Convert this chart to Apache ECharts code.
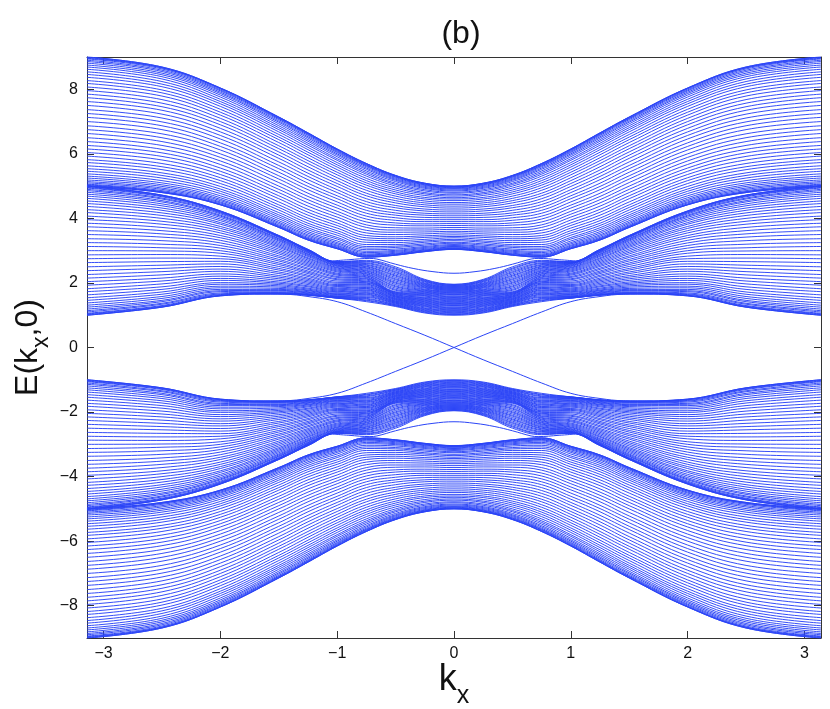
<!DOCTYPE html>
<html>
<head>
<meta charset="utf-8">
<style>
  html, body { margin: 0; padding: 0; background: #fff; }
  #graph { width: 830px; height: 709px; }
</style>
<script src="https://cdn.jsdelivr.net/npm/echarts@6/dist/echarts.min.js"></script>
</head>
<body>
<div id="graph"></div>
<script>
// kx samples, right half of the plot (the picture is mirror symmetric in kx and in E)
const kHalf = [0, 0.25, 0.5, 0.75, 1, 1.25, 1.5, 2, 2.5, 3.1416];
const xTicks = [-3, -2, -1, 0, 1, 2, 3];
const yTicks = [-8, -6, -4, -2, 0, 2, 4, 6, 8];

// upper family: band energies read at each kx, lowest line to highest line
const outerK000 = [3.04,3.04,3.05,3.06,3.07,3.09,3.11,3.13,3.16,3.19,3.23,3.26,3.31,3.35,3.40,3.44,3.49,3.55,3.60,3.66,3.72,3.78,3.84,3.90,3.96,4.02,4.08,4.14,4.20,4.26,4.32,4.38,4.44,4.49,4.55,4.60,4.64,4.69,4.73,4.78,4.81,4.85,4.88,4.91,4.93,4.95,4.97,4.98,4.99,5.00,5.00];
const outerK025 = [2.97,2.97,2.98,2.99,3.00,3.02,3.04,3.07,3.10,3.13,3.17,3.21,3.26,3.30,3.35,3.41,3.46,3.52,3.58,3.64,3.70,3.77,3.83,3.90,3.96,4.03,4.10,4.16,4.23,4.29,4.36,4.42,4.48,4.54,4.60,4.65,4.71,4.76,4.80,4.85,4.89,4.93,4.96,4.99,5.02,5.04,5.06,5.07,5.08,5.09,5.09];
const outerK050 = [2.86,2.86,2.87,2.88,2.90,2.92,2.95,2.98,3.01,3.05,3.10,3.14,3.19,3.25,3.31,3.37,3.43,3.50,3.57,3.64,3.71,3.79,3.86,3.94,4.02,4.10,4.17,4.25,4.33,4.40,4.48,4.55,4.62,4.69,4.76,4.82,4.88,4.94,5.00,5.05,5.09,5.14,5.18,5.21,5.24,5.27,5.29,5.31,5.32,5.33,5.33];
const outerK075 = [2.80,2.80,2.81,2.83,2.85,2.87,2.90,2.94,2.98,3.03,3.08,3.13,3.19,3.26,3.33,3.40,3.47,3.55,3.63,3.72,3.80,3.89,3.98,4.07,4.16,4.25,4.34,4.43,4.52,4.61,4.70,4.78,4.87,4.95,5.03,5.10,5.17,5.24,5.31,5.37,5.42,5.47,5.52,5.56,5.60,5.63,5.65,5.67,5.69,5.70,5.70];
const outerK100 = [3.06,3.06,3.07,3.09,3.11,3.14,3.17,3.21,3.25,3.30,3.36,3.41,3.48,3.55,3.62,3.70,3.78,3.86,3.95,4.04,4.13,4.22,4.32,4.41,4.51,4.61,4.70,4.80,4.89,4.99,5.08,5.17,5.26,5.35,5.43,5.51,5.59,5.66,5.73,5.80,5.85,5.91,5.96,6.00,6.04,6.07,6.10,6.12,6.14,6.15,6.15];
const outerK125 = [3.33,3.33,3.34,3.36,3.38,3.41,3.45,3.49,3.54,3.59,3.65,3.71,3.78,3.85,3.93,4.01,4.10,4.19,4.28,4.38,4.48,4.58,4.68,4.78,4.89,4.99,5.09,5.20,5.30,5.40,5.50,5.60,5.70,5.79,5.88,5.97,6.05,6.13,6.20,6.27,6.33,6.39,6.44,6.49,6.53,6.57,6.60,6.62,6.64,6.65,6.65];
const outerK150 = [3.72,3.72,3.73,3.75,3.77,3.80,3.84,3.88,3.93,3.99,4.05,4.11,4.18,4.26,4.34,4.42,4.51,4.61,4.70,4.80,4.90,5.00,5.11,5.22,5.32,5.43,5.54,5.64,5.75,5.86,5.96,6.06,6.16,6.25,6.35,6.44,6.52,6.60,6.68,6.75,6.81,6.87,6.93,6.98,7.02,7.06,7.09,7.11,7.13,7.14,7.14];
const outerK200 = [4.42,4.42,4.43,4.45,4.48,4.51,4.55,4.59,4.64,4.70,4.77,4.84,4.91,4.99,5.08,5.17,5.26,5.36,5.46,5.56,5.67,5.78,5.89,6.00,6.12,6.23,6.34,6.46,6.57,6.68,6.79,6.90,7.00,7.10,7.20,7.29,7.38,7.47,7.55,7.62,7.69,7.76,7.82,7.87,7.91,7.95,7.98,8.01,8.03,8.04,8.04];
const outerK250 = [4.80,4.80,4.82,4.83,4.86,4.90,4.94,4.99,5.04,5.10,5.17,5.25,5.33,5.41,5.51,5.60,5.70,5.81,5.92,6.03,6.14,6.26,6.38,6.50,6.62,6.75,6.87,6.99,7.11,7.23,7.35,7.46,7.57,7.68,7.79,7.89,7.98,8.08,8.16,8.24,8.32,8.39,8.45,8.50,8.55,8.59,8.63,8.66,8.67,8.69,8.69];
const outerKPi = [5.00,5.00,5.02,5.04,5.06,5.10,5.14,5.19,5.25,5.31,5.38,5.46,5.54,5.63,5.73,5.82,5.93,6.04,6.15,6.26,6.38,6.50,6.63,6.75,6.87,7.00,7.13,7.25,7.37,7.50,7.62,7.74,7.85,7.96,8.07,8.18,8.27,8.37,8.46,8.54,8.62,8.69,8.75,8.81,8.86,8.90,8.94,8.96,8.98,9.00,9.00];

// lower family of the positive half
const innerK000 = [1.00,1.02,1.04,1.06,1.08,1.11,1.13,1.15,1.17,1.19,1.21,1.23,1.25,1.28,1.30,1.32,1.34,1.36,1.38,1.40,1.42,1.45,1.47,1.49,1.51,1.53,1.55,1.57,1.59,1.62,1.64,1.66,1.68,1.70,1.72,1.74,1.75,1.77,1.78,1.80,1.81,1.83,1.84,1.86,1.87,1.89,1.90,1.92,1.93,1.95,1.96];
const innerK025 = [1.07,1.09,1.11,1.13,1.15,1.17,1.19,1.21,1.23,1.26,1.28,1.30,1.32,1.34,1.36,1.38,1.40,1.42,1.44,1.46,1.48,1.50,1.52,1.54,1.56,1.59,1.61,1.63,1.65,1.67,1.69,1.71,1.73,1.75,1.77,1.79,1.81,1.84,1.86,1.88,1.90,1.92,1.94,1.96,1.98,2.00,2.03,2.05,2.07,2.09,2.11];
const innerK050 = [1.27,1.29,1.30,1.32,1.33,1.35,1.37,1.38,1.40,1.41,1.43,1.44,1.46,1.48,1.49,1.51,1.52,1.54,1.56,1.57,1.59,1.60,1.62,1.64,1.65,1.67,1.68,1.70,1.71,1.73,1.77,1.80,1.84,1.88,1.91,1.95,1.99,2.02,2.06,2.10,2.13,2.17,2.21,2.24,2.28,2.32,2.35,2.39,2.43,2.46,2.50];
const innerK075 = [1.42,1.45,1.47,1.50,1.52,1.55,1.57,1.60,1.63,1.65,1.68,1.70,1.73,1.76,1.78,1.81,1.83,1.86,1.88,1.91,1.94,1.96,1.99,2.01,2.04,2.06,2.09,2.12,2.14,2.17,2.19,2.22,2.24,2.27,2.29,2.32,2.34,2.37,2.39,2.42,2.45,2.47,2.50,2.52,2.55,2.57,2.60,2.62,2.65,2.67,2.70];
const innerK100 = [1.53,1.53,1.53,1.54,1.55,1.56,1.57,1.58,1.60,1.62,1.64,1.66,1.68,1.71,1.73,1.76,1.79,1.82,1.85,1.89,1.92,1.95,1.99,2.02,2.06,2.10,2.13,2.17,2.20,2.24,2.27,2.30,2.34,2.37,2.40,2.43,2.46,2.48,2.51,2.53,2.55,2.57,2.59,2.60,2.61,2.62,2.63,2.64,2.65,2.66,2.66];
const innerK125 = [1.62,1.62,1.63,1.63,1.64,1.65,1.67,1.69,1.71,1.73,1.76,1.78,1.81,1.84,1.88,1.91,1.95,1.99,2.03,2.07,2.11,2.15,2.20,2.24,2.29,2.33,2.37,2.42,2.46,2.51,2.55,2.59,2.63,2.67,2.71,2.75,2.78,2.82,2.85,2.88,2.90,2.93,2.95,2.97,2.99,3.00,3.01,3.02,3.03,3.04,3.04];
const innerK150 = [1.66,1.66,1.67,1.68,1.69,1.70,1.72,1.75,1.77,1.80,1.83,1.87,1.91,1.95,1.99,2.03,2.08,2.13,2.18,2.23,2.29,2.34,2.40,2.45,2.51,2.57,2.62,2.68,2.73,2.79,2.84,2.90,2.95,3.00,3.05,3.10,3.14,3.18,3.22,3.26,3.30,3.33,3.36,3.38,3.41,3.43,3.44,3.45,3.46,3.47,3.47];
const innerK200 = [1.60,1.60,1.61,1.62,1.64,1.66,1.69,1.73,1.76,1.80,1.85,1.90,1.96,2.01,2.08,2.14,2.21,2.28,2.36,2.43,2.51,2.59,2.67,2.75,2.83,2.92,3.00,3.08,3.16,3.24,3.32,3.40,3.47,3.55,3.62,3.69,3.75,3.82,3.87,3.93,3.98,4.03,4.07,4.10,4.14,4.17,4.19,4.21,4.22,4.23,4.23];
const innerK250 = [1.25,1.25,1.26,1.28,1.30,1.34,1.37,1.42,1.46,1.52,1.58,1.65,1.72,1.80,1.88,1.97,2.06,2.15,2.25,2.35,2.45,2.55,2.66,2.77,2.88,2.99,3.09,3.20,3.31,3.42,3.52,3.62,3.72,3.82,3.91,4.00,4.09,4.17,4.25,4.32,4.39,4.45,4.51,4.55,4.60,4.63,4.67,4.69,4.71,4.72,4.72];
const innerKPi = [1.00,1.00,1.02,1.04,1.06,1.10,1.14,1.19,1.25,1.31,1.38,1.46,1.54,1.63,1.73,1.82,1.93,2.04,2.15,2.26,2.38,2.50,2.63,2.75,2.87,3.00,3.13,3.25,3.37,3.50,3.62,3.74,3.85,3.96,4.07,4.18,4.27,4.37,4.46,4.54,4.62,4.69,4.75,4.81,4.86,4.90,4.94,4.96,4.98,5.00,5.00];

// the isolated curves
const gapStateK = [0, 0.25, 0.5, 0.75, 1, 1.25, 1.45, 1.7];
const gapStateE = [0, 0.38, 0.74, 1.1, 1.42, 1.58, 1.65, 1.66];
const upperStateK = [0, 0.18, 0.35, 0.5, 0.66, 0.72, 0.9, 1.04];
const upperStateE = [2.30, 2.35, 2.45, 2.58, 2.74, 2.76, 2.72, 2.68];

const outerCuts = [outerK000, outerK025, outerK050, outerK075, outerK100, outerK125, outerK150, outerK200, outerK250, outerKPi];
const innerCuts = [innerK000, innerK025, innerK050, innerK075, innerK100, innerK125, innerK150, innerK200, innerK250, innerKPi];

const lineBlue = '#2b45f7';

function curve(kList, eList, sign, width) {
  let data = [];
  for (let i = kList.length - 1; i > 0; i--) data.push([-kList[i], sign * eList[i]]);
  for (let i = 0; i < kList.length; i++) data.push([kList[i], sign * eList[i]]);
  return {
    type: 'line',
    data: data,
    showSymbol: false,
    smooth: 0.4,
    silent: true,
    animation: false,
    lineStyle: { color: lineBlue, width: width }
  };
}

let series = [];
[outerCuts, innerCuts].forEach(function (cuts) {
  for (let j = 0; j < cuts[0].length; j++) {
    let band = cuts.map(function (cut) { return cut[j]; });
    series.push(curve(kHalf, band, 1, 0.95));
    series.push(curve(kHalf, band, -1, 0.95));
  }
});
[1, -1].forEach(function (sign) {
  series.push(curve(upperStateK, upperStateE, sign, 1));
});
// the gap curves cross at zero: each one runs through the origin with opposite slope
[1, -1].forEach(function (sign) {
  let data = [];
  for (let i = gapStateK.length - 1; i > 0; i--) data.push([-gapStateK[i], -sign * gapStateE[i]]);
  for (let i = 0; i < gapStateK.length; i++) data.push([gapStateK[i], sign * gapStateE[i]]);
  series.push({
    type: 'line', data: data, showSymbol: false, smooth: 0.4, silent: true, animation: false,
    lineStyle: { color: lineBlue, width: 1 }
  });
});

function minusLabel(v) {
  return String(v).replace('-', '\u2212');
}
const frame = { show: true, onZero: false, lineStyle: { color: '#333', width: 1 } };
const font = 'Liberation Sans';

let myChart = echarts.init(document.getElementById('graph'));
myChart.setOption({
  backgroundColor: '#fff',
  animation: false,
  title: {
    text: '(b)',
    left: 456,
    top: 13,
    textAlign: 'center',
    textStyle: { fontFamily: font, fontSize: 32, fontWeight: 'normal', color: '#111' }
  },
  grid: { left: 87, right: 9, top: 57, bottom: 71, outerBoundsMode: 'none' },
  xAxis: [
    {
      type: 'value', min: -Math.PI, max: Math.PI, position: 'bottom',
      axisLine: frame,
      axisTick: { inside: true, length: 7, customValues: xTicks, lineStyle: { color: '#333' } },
      axisLabel: { customValues: xTicks, formatter: minusLabel, fontFamily: font, fontSize: 16, color: '#111', margin: 8 },
      splitLine: { show: false },
      name: '{a|k}{b|x}',
      nameLocation: 'middle',
      nameMoveOverlap: false,
      nameGap: 14,
      nameTextStyle: {
        rich: {
          a: { fontFamily: font, fontSize: 36, color: '#111' },
          b: { fontFamily: font, fontSize: 25, color: '#111', padding: [32, 0, 0, 0] }
        }
      }
    },
    {
      type: 'value', min: -Math.PI, max: Math.PI, position: 'top',
      axisLine: frame,
      axisTick: { inside: true, length: 7, customValues: xTicks, lineStyle: { color: '#333' } },
      axisLabel: { show: false },
      splitLine: { show: false }
    }
  ],
  yAxis: [
    {
      type: 'value', min: -9, max: 9, position: 'left',
      axisLine: frame,
      axisTick: { inside: true, length: 7, customValues: yTicks, lineStyle: { color: '#333' } },
      axisLabel: { customValues: yTicks, formatter: minusLabel, fontFamily: font, fontSize: 16, color: '#111', margin: 9 },
      splitLine: { show: false },
      name: '{a|E(k}{b|x}{a|,0)}',
      nameLocation: 'middle',
      nameMoveOverlap: false,
      nameGap: 34,
      nameTextStyle: {
        rich: {
          a: { fontFamily: font, fontSize: 32, color: '#111' },
          b: { fontFamily: font, fontSize: 23, color: '#111', padding: [26, 0, 0, 0] }
        }
      }
    },
    {
      type: 'value', min: -9, max: 9, position: 'right',
      axisLine: frame,
      axisTick: { inside: true, length: 7, customValues: yTicks, lineStyle: { color: '#333' } },
      axisLabel: { show: false },
      splitLine: { show: false }
    }
  ],
  series: series
});
</script>
</body>
</html>
